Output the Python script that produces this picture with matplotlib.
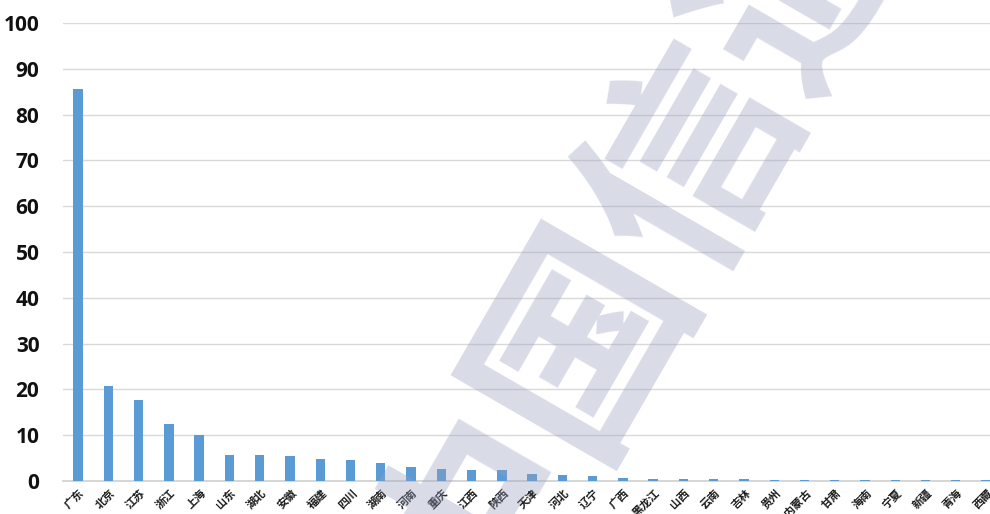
import matplotlib
matplotlib.use("Agg")
import matplotlib.pyplot as plt
import numpy as np

provinces = ["广东", "北京", "江苏", "浙江", "上海", "山东", "湖北", "安徽", "福建", "四川",
             "湖南", "河南", "重庆", "江西", "陕西", "天津", "河北", "辽宁", "广西", "黑龙江",
             "山西", "云南", "吉林", "贵州", "内蒙古", "甘肃", "海南", "宁夏", "新疆", "青海", "西藏"]
values = [85.6, 20.7, 17.7, 12.4, 10.0, 5.7, 5.6, 5.4, 4.8, 4.5,
          3.9, 3.1, 2.7, 2.5, 2.3, 1.6, 1.4, 1.0, 0.7, 0.5,
          0.5, 0.5, 0.5, 0.3, 0.3, 0.3, 0.3, 0.3, 0.3, 0.3, 0.3]
y_ticks = [0, 10, 20, 30, 40, 50, 60, 70, 80, 90, 100]

plt.rcParams["font.family"] = ["Noto Sans CJK SC", "DejaVu Sans"]

W, H = 990, 514
fig = plt.figure(figsize=(W / 100, H / 100), dpi=100)
ax = fig.add_axes([63 / W, (H - 481) / H, (W - 63) / W, (481 - 23) / H])

x = np.arange(len(provinces))
ax.bar(x, values, width=0.31, color="#5B9BD5", zorder=3)

ax.set_xlim(-0.5, 30.13)
ax.set_ylim(0, 100)
ax.set_yticks(y_ticks)
ax.set_yticklabels([str(t) for t in y_ticks], family="Open Sans", fontweight="bold",
                   fontsize=15, color="#111111")
ax.set_xticks(x)
ax.set_xticklabels(provinces, rotation=45, ha="right", rotation_mode="anchor",
                   fontsize=8, fontweight="bold", color="#1A1A1A")

ax.grid(axis="y", color="#D9D9D9", linewidth=1.0, zorder=0)
for side in ["top", "right", "left"]:
    ax.spines[side].set_visible(False)
ax.spines["bottom"].set_color("#D0D0D0")
ax.spines["bottom"].set_linewidth(1.2)
ax.spines["bottom"].set_zorder(2)
ax.tick_params(axis="both", length=0)
ax.tick_params(axis="y", pad=17)
ax.tick_params(axis="x", pad=4)

# watermark across the plot
fig.text(690 / W, 1 - 150 / H, "中国信通院", fontsize=154, fontweight="black",
         rotation=60, ha="center", va="center", color="#969FBE", alpha=0.36,
         zorder=10)

fig.savefig("out.png", dpi=100)
